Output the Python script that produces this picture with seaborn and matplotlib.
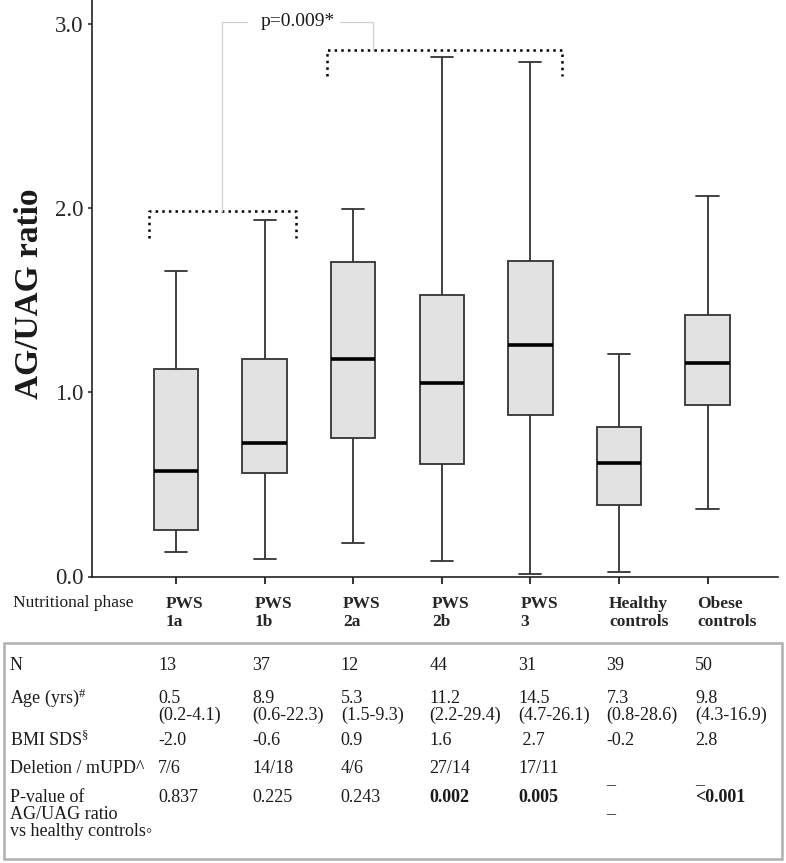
import numpy as np
import pandas as pd
import matplotlib
matplotlib.use("Agg")
import matplotlib.pyplot as plt
import seaborn as sns
from matplotlib.patches import Rectangle
from matplotlib import transforms

# box statistics (whisker ends, quartiles, median)
groups = ["PWS\n1a", "PWS\n1b", "PWS\n2a", "PWS\n2b", "PWS\n3",
          "Healthy\ncontrols", "Obese\ncontrols"]
whisker_low = [0.135, 0.097, 0.182, 0.086, 0.015, 0.026, 0.365]
q1 = [0.253, 0.561, 0.754, 0.611, 0.876, 0.390, 0.933]
median = [0.575, 0.723, 1.183, 1.049, 1.257, 0.615, 1.160]
q3 = [1.127, 1.181, 1.707, 1.529, 1.714, 0.810, 1.420]
whisker_high = [1.661, 1.935, 1.995, 2.818, 2.796, 1.207, 2.068]

# table under the plot
row_labels = ["N", r"Age (yrs)$^{\#}$", r"BMI SDS$^{\S}$", "Deletion / mUPD^",
              "P-value of\nAG/UAG ratio\nvs healthy controls\u25e6"]
n_vals = ["13", "37", "12", "44", "31", "39", "50"]
age_vals = ["0.5\n(0.2-4.1)", "8.9\n(0.6-22.3)", "5.3\n(1.5-9.3)", "11.2\n(2.2-29.4)",
            "14.5\n(4.7-26.1)", "7.3\n(0.8-28.6)", "9.8\n(4.3-16.9)"]
bmi_vals = ["-2.0", "-0.6", "0.9", "1.6", " 2.7", "-0.2", "2.8"]
deletion_vals = ["7/6", "14/18", "4/6", "27/14", "17/11", "_", "_"]
p_vals = ["0.837", "0.225", "0.243", "0.002", "0.005", "_", "<0.001"]
p_bold = [False, False, False, True, True, False, True]

rows = []
for i, g in enumerate(groups):
    for v in (whisker_low[i], q1[i], median[i], q3[i], whisker_high[i]):
        rows.append({"phase": g, "ratio": v})
df = pd.DataFrame(rows)

sns.set_style("ticks")
plt.rcParams["font.family"] = ["Liberation Serif", "DejaVu Sans"]
plt.rcParams["mathtext.fontset"] = "custom"
plt.rcParams["mathtext.rm"] = "Liberation Serif"
plt.rcParams["mathtext.it"] = "Liberation Serif:italic"
plt.rcParams["mathtext.bf"] = "Liberation Serif:bold"
plt.rcParams["text.color"] = "#1a1a1a"

W, H = 786, 863
fig = plt.figure(figsize=(W / 100, H / 100), dpi=100)
ax = fig.add_axes([92 / W, 1 - 576.5 / H, 686 / W, 576.5 / H])

sns.boxplot(data=df, x="phase", y="ratio", order=groups, width=0.5,
            whis=(0, 100), showfliers=False, color="#e2e2e2",
            linecolor="#333333", linewidth=1.3,
            medianprops=dict(color="black", linewidth=2.6), ax=ax)

ax.set_xlim(-0.948, 6.795)
ax.set_ylim(0, 3.13)
ax.set_yticks([0, 1, 2, 3])
ax.set_yticklabels(["0.0", "1.0", "2.0", "3.0"], fontsize=16.5)
ax.set_xlabel("")
ax.set_ylabel("")
sns.despine(ax=ax)
for s in ("left", "bottom"):
    ax.spines[s].set_linewidth(1.2)
    ax.spines[s].set_color("#222222")
ax.tick_params(axis="y", length=3, width=1.1, color="#222222", pad=3)
ax.tick_params(axis="x", length=5, width=1.3, color="#222222", pad=9)

ax.set_xticks(range(len(groups)))
ax.set_xticklabels(groups, fontsize=12.5, fontweight="bold", ha="left")
shift = transforms.ScaledTranslation(-10 / 100, 0, fig.dpi_scale_trans)
for lab in ax.get_xticklabels():
    lab.set_transform(lab.get_transform() + shift)

fig.text(30 / W, 1 - 294 / H, "AG/UAG ratio", rotation=90, fontsize=24,
         fontweight="bold", ha="center", va="center")
fig.text(13 / W, 1 - 603 / H, "Nutritional phase", fontsize=12.5, va="center")

# significance brackets
ax.plot([-0.3, -0.3, 1.35, 1.35], [1.84, 1.985, 1.985, 1.84], ls=":", lw=1.8, color="black")
ax.plot([1.7, 1.7, 4.36, 4.36], [2.72, 2.86, 2.86, 2.72], ls=":", lw=1.8, color="black")
ax.plot([0.52, 0.52, 0.80], [1.985, 3.012, 3.012], lw=0.9, color="#d0d0d0", clip_on=False)
ax.plot([1.85, 2.223, 2.223], [3.012, 3.012, 2.86], lw=0.9, color="#d0d0d0", clip_on=False)
ax.text(1.377, 3.012, "p=0.009*", fontsize=14, ha="center", va="center")

# table
fig.patches.append(Rectangle((4 / W, 1 - 859 / H), 778 / W, 216 / H, transform=fig.transFigure,
                             fill=False, edgecolor="#b0b0b0", linewidth=1.8))
trans = transforms.blended_transform_factory(ax.transData, fig.transFigure)
row_y = [665, 698, 740, 768, 797]
line_h = 17
table = [n_vals, age_vals, bmi_vals, deletion_vals, p_vals]
for r, label in enumerate(row_labels):
    for k, line in enumerate(label.split("\n")):
        fig.text(10 / W, 1 - (row_y[r] + k * line_h) / H, line, fontsize=13, va="center")
    for c, val in enumerate(table[r]):
        bold = r == 4 and p_bold[c]
        dy = 12 if val == "_" else 0
        x0 = c - (0.2 if c == 0 else 0.14)
        for k, line in enumerate(val.split("\n")):
            ax.text(x0, 1 - (row_y[r] + dy + k * line_h) / H, line, transform=trans,
                    fontsize=13, va="center", fontweight="bold" if bold else "normal")

fig.savefig("out.png", dpi=100)
